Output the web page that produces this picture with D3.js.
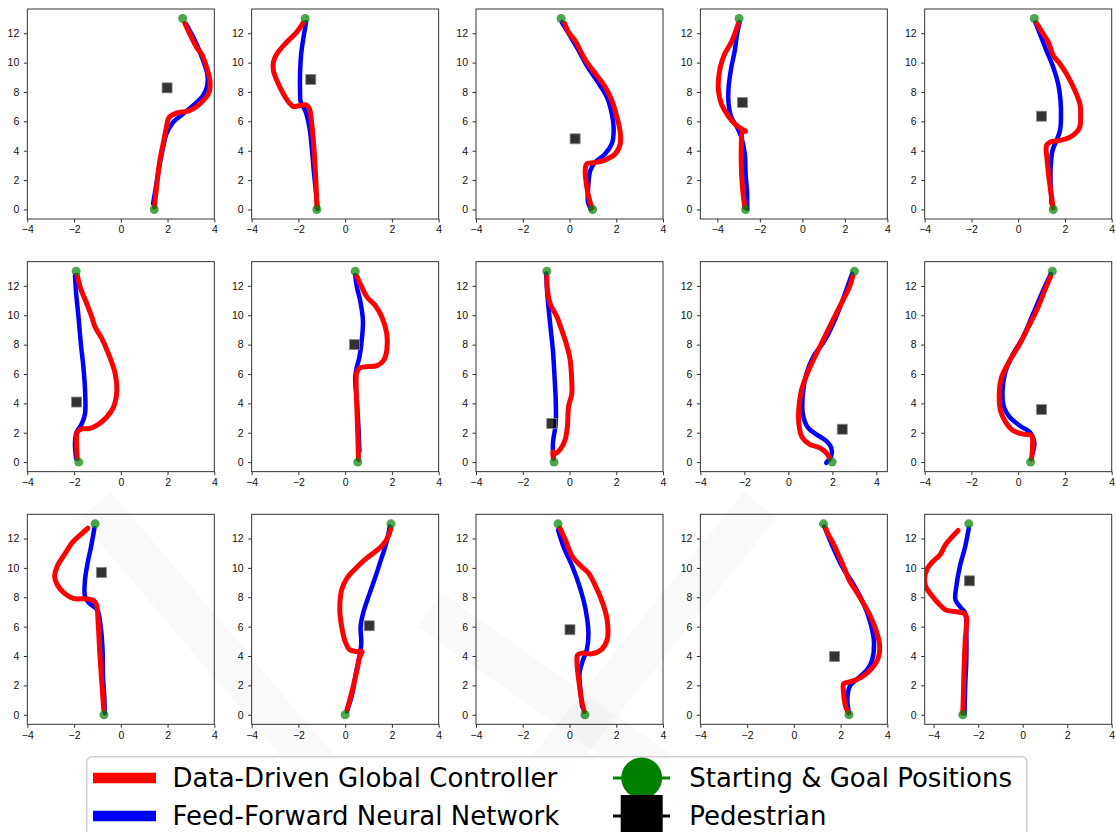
<!DOCTYPE html>
<meta charset="utf-8">
<style>
  body { margin: 0; background: #fff; }
  svg { display: block; font-family: 'DejaVu Sans', sans-serif; }
  .tick text { font-size: 10.5px; fill: #111; }
  .tick line { stroke: #333; }
  .domain { display: none; }
</style>
<script src="https://d3js.org/d3.v7.min.js"></script>
<div id="chart"></div>
<script>
// ---- data ----
const xTicks = [-4, -2, 0, 2, 4];
const yTicks = [0, 2, 4, 6, 8, 10, 12];
const yDomain = [-0.65, 13.65];

// x limits per panel (a few panels were auto-scaled wider)
const xDomains = [[-4,4],[-4,4],[-4,4],[-4.8,4],[-4,4],
                  [-4,4],[-4,4],[-4,4],[-4,4.5],[-4,4],
                  [-4,4],[-4,4],[-4,4],[-4,4],[-4.4,4]];

const topPoints = [[2.65,13],[-1.71,13],[-0.36,13],[-2.98,13],[0.69,13],
                   [-1.91,13],[0.43,13],[-0.97,13],[3.0,13],[1.46,13],
                   [-1.1,13],[1.96,13],[-0.49,13],[1.27,13],[-2.42,13]];
const bottomPoints = [[1.43,0],[-1.21,0],[0.99,0],[-2.67,0],[1.5,0],
                      [-1.8,0],[0.54,0],[-0.66,0],[1.99,0],[0.53,0],
                      [-0.72,0],[0,0],[0.66,0],[2.36,0],[-2.69,0]];
const pedestrians = [[1.98,8.28],[-1.47,8.85],[0.24,4.81],[-2.82,7.28],[1.0,6.35],
                     [-1.89,4.09],[0.4,8.0],[-0.76,2.63],[2.45,2.24],[1.0,3.58],
                     [-0.83,9.69],[1.03,6.06],[0.02,5.79],[1.74,3.97],[-2.39,9.12]];

const redPaths = [
  [[2.74,12.68],[3.24,11.05],[3.45,10.6],[3.67,9.69],[3.81,8.78],[3.78,7.99],[3.38,7.19],[2.95,6.74],[2.38,6.56],[2.07,6.28],[1.95,5.6],[1.84,4.7],[1.67,3.33],[1.53,1.52],[1.44,0.16]],
  [[-1.81,12.68],[-2.07,12.07],[-2.5,11.39],[-2.92,10.6],[-3.07,10.03],[-3.07,9.46],[-2.92,8.78],[-2.64,7.87],[-2.35,7.19],[-2.21,7.01],[-1.93,7.08],[-1.67,7.12],[-1.53,6.85],[-1.43,5.83],[-1.36,4.7],[-1.3,3.33],[-1.24,1.52],[-1.21,0.16]],
  [[-0.21,12.68],[-0.04,12.07],[0.24,11.5],[0.53,10.6],[0.74,10.03],[1.17,9.12],[1.53,8.33],[1.81,7.42],[2.03,6.28],[2.17,5.26],[2.17,4.47],[1.96,3.79],[1.46,3.33],[1.03,3.18],[0.74,3.11],[0.67,2.65],[0.74,1.52],[0.86,0.61],[0.96,0.11]],
  [[-3.01,12.68],[-3.18,11.96],[-3.34,11.39],[-3.65,10.6],[-3.86,9.69],[-3.95,8.78],[-3.95,8.1],[-3.81,7.19],[-3.5,6.4],[-3.18,5.83],[-2.87,5.49],[-2.67,5.33],[-2.82,5.26],[-2.87,4.47],[-2.87,2.88],[-2.82,1.52],[-2.71,0.16]],
  [[0.79,12.68],[1.07,11.96],[1.29,11.39],[1.5,10.48],[1.79,9.91],[2.07,9.23],[2.36,8.33],[2.64,7.19],[2.67,6.51],[2.64,5.65],[2.5,5.26],[2.21,4.92],[1.79,4.7],[1.36,4.58],[1.21,4.36],[1.24,3.33],[1.33,1.97],[1.43,0.84],[1.49,0.11]],
  [[-1.86,12.73],[-1.74,11.93],[-1.46,10.8],[-1.24,9.89],[-1.1,9.2],[-0.81,8.41],[-0.53,7.39],[-0.24,6.02],[-0.17,4.89],[-0.31,3.75],[-0.6,3.07],[-1.03,2.5],[-1.39,2.27],[-1.67,2.27],[-1.86,2.05],[-1.89,1.25],[-1.86,0.23]],
  [[0.5,12.66],[0.71,11.93],[0.93,11.25],[1.28,10.68],[1.57,9.88],[1.78,8.74],[1.78,7.6],[1.64,6.91],[1.36,6.57],[0.93,6.5],[0.64,6.41],[0.5,6.11],[0.47,5.32],[0.5,3.72],[0.54,1.89],[0.57,0.18]],
  [[-0.97,12.66],[-0.94,11.71],[-0.83,10.8],[-0.54,9.89],[-0.33,8.98],[-0.14,8.08],[0.03,6.94],[0.1,5.35],[0.1,4.67],[-0.04,3.77],[-0.09,2.4],[-0.19,1.5],[-0.37,0.93],[-0.61,0.59],[-0.71,0.7],[-0.69,0.25]],
  [[2.93,12.66],[2.78,11.93],[2.48,11.02],[2.02,9.65],[1.57,8.28],[1.12,6.91],[0.82,5.89],[0.59,4.86],[0.48,3.72],[0.48,2.58],[0.63,1.67],[0.97,1.21],[1.42,0.98],[1.72,0.64],[1.87,0.3]],
  [[1.39,12.66],[1.14,11.71],[0.79,10.34],[0.43,9.2],[0.07,8.06],[-0.36,6.92],[-0.71,5.79],[-0.81,4.65],[-0.76,3.51],[-0.53,2.71],[-0.21,2.14],[0.21,1.91],[0.57,1.8],[0.61,1.0],[0.57,0.21]],
  [[-1.41,12.7],[-1.73,12.25],[-2.03,11.8],[-2.42,10.89],[-2.72,10.1],[-2.83,9.41],[-2.72,8.85],[-2.42,8.28],[-2.03,7.92],[-1.5,7.89],[-1.16,7.78],[-1.04,7.49],[-0.96,6.01],[-0.89,3.97],[-0.81,2.16],[-0.73,0.34]],
  [[1.96,12.7],[1.84,12.14],[1.61,11.57],[1.3,11.12],[0.92,10.66],[0.46,9.98],[0.08,9.3],[-0.15,8.51],[-0.23,7.15],[-0.15,6.01],[0,4.99],[0.2,4.42],[0.46,4.31],[0.72,4.31],[0.61,3.86],[0.51,3.06],[0.31,1.7],[0.08,0.34]],
  [[-0.41,12.71],[-0.18,11.91],[0.12,10.78],[0.43,10.21],[0.81,9.65],[1.12,8.74],[1.42,7.6],[1.61,6.47],[1.61,5.11],[1.35,4.42],[0.96,4.15],[0.58,4.2],[0.35,4.08],[0.32,3.52],[0.43,1.93],[0.54,0.8],[0.63,0.22]],
  [[1.37,12.7],[1.45,12.36],[1.68,11.68],[1.91,10.89],[2.13,10.1],[2.36,9.19],[2.67,8.39],[2.97,7.6],[3.28,6.69],[3.51,5.78],[3.66,4.88],[3.66,4.2],[3.51,3.52],[3.13,2.84],[2.67,2.38],[2.29,2.2],[2.13,2.11],[2.13,1.47],[2.21,0.57],[2.33,0.16]],
  [[-2.9,12.55],[-3.15,12.14],[-3.47,11.57],[-3.71,10.89],[-4.03,10.44],[-4.27,9.98],[-4.4,9.3],[-4.35,8.73],[-4.11,8.17],[-3.79,7.6],[-3.47,7.15],[-3.06,7.03],[-2.66,6.92],[-2.53,6.69],[-2.58,5.1],[-2.63,3.29],[-2.66,1.47],[-2.69,0.11]]
];

const bluePaths = [
  [[2.8,12.6],[3.24,11.27],[3.52,10.14],[3.7,9.23],[3.7,8.44],[3.52,7.76],[3.1,7.08],[2.67,6.51],[2.24,5.94],[1.95,5.15],[1.81,4.24],[1.64,2.88],[1.5,1.52],[1.38,0.39]],
  [[-1.67,12.75],[-1.78,11.73],[-1.88,10.6],[-1.93,9.23],[-1.93,8.1],[-1.9,7.3],[-1.71,6.74],[-1.53,5.6],[-1.43,4.24],[-1.33,2.43],[-1.21,0.61],[-1.18,0.05]],
  [[-0.33,12.75],[-0.11,12.18],[0.31,11.05],[0.74,9.8],[1.17,8.78],[1.6,7.65],[1.81,6.51],[1.89,5.38],[1.81,4.47],[1.53,3.79],[1.1,3.22],[0.89,2.65],[0.81,1.75],[0.79,0.5],[0.91,0.05]],
  [[-2.95,12.75],[-3.07,11.96],[-3.18,10.82],[-3.34,9.69],[-3.47,8.33],[-3.47,7.19],[-3.34,6.28],[-3.07,5.6],[-2.87,4.92],[-2.71,3.79],[-2.67,2.43],[-2.6,1.07],[-2.6,0.05]],
  [[0.73,12.75],[0.93,11.96],[1.21,10.82],[1.5,9.69],[1.71,8.55],[1.81,7.42],[1.83,6.28],[1.79,5.38],[1.64,4.7],[1.47,4.02],[1.39,2.88],[1.39,1.52],[1.43,0.39]],
  [[-1.96,12.73],[-1.91,11.48],[-1.81,9.89],[-1.71,8.07],[-1.6,6.48],[-1.53,4.89],[-1.53,3.3],[-1.67,2.61],[-1.89,2.05],[-1.96,1.25],[-1.91,0.23]],
  [[0.43,12.73],[0.5,11.93],[0.64,11.02],[0.76,9.65],[0.71,8.28],[0.61,7.14],[0.5,6.46],[0.43,5.77],[0.5,4.18],[0.57,2.35],[0.61,0.75]],
  [[-1.0,12.84],[-0.94,11.25],[-0.83,9.44],[-0.71,7.62],[-0.64,5.81],[-0.59,4.22],[-0.59,2.63],[-0.71,1.27],[-0.69,0.25]],
  [[2.9,12.84],[2.63,11.7],[2.17,9.88],[1.65,8.28],[1.12,7.14],[0.82,6.0],[0.66,4.63],[0.66,3.26],[0.89,2.35],[1.27,1.89],[1.72,1.44],[1.95,0.98],[1.95,0.41],[1.72,-0.05]],
  [[1.39,12.8],[1.07,11.71],[0.64,10.11],[0.21,8.52],[-0.29,7.15],[-0.57,6.01],[-0.67,4.87],[-0.61,3.74],[-0.36,3.05],[0.07,2.48],[0.5,2.03],[0.69,1.34],[0.61,0.55]],
  [[-1.13,12.7],[-1.27,11.46],[-1.42,10.32],[-1.53,9.19],[-1.53,8.05],[-1.35,7.6],[-1.01,7.15],[-0.86,6.01],[-0.78,4.42],[-0.76,2.61],[-0.7,1.02],[-0.69,0.11]],
  [[1.91,12.82],[1.76,11.68],[1.53,10.55],[1.3,9.41],[1.0,8.05],[0.77,6.92],[0.66,6.01],[0.69,4.88],[0.61,3.97],[0.46,2.84],[0.31,1.47],[0.08,0.23]],
  [[-0.49,12.59],[-0.26,11.46],[0.12,10.1],[0.43,8.74],[0.69,7.15],[0.81,5.56],[0.74,4.42],[0.58,3.74],[0.43,2.84],[0.48,1.48],[0.54,0.57]],
  [[1.3,12.82],[1.6,11.68],[2.06,10.1],[2.52,8.96],[2.97,7.6],[3.28,6.24],[3.43,4.88],[3.35,3.74],[3.13,3.06],[2.67,2.38],[2.39,1.93],[2.29,1.02],[2.36,0.11]],
  [[-2.42,12.7],[-2.58,11.46],[-2.82,10.1],[-2.98,8.73],[-3.02,7.83],[-2.82,7.37],[-2.58,6.92],[-2.53,5.56],[-2.53,3.74],[-2.58,1.93],[-2.61,0.11]]
];

const lineLabels = ["Data-Driven Global Controller", "Feed-Forward Neural Network"];
const markerLabels = ["Starting & Goal Positions", "Pedestrian"];

// ---- layout ----
const W = 1116, H = 832;
const pw = 187, ph = 210;
const left0 = 27.3, colStep = 224.35;
const top0 = 9, rowStep = 252.65;

const svg = d3.select("#chart").append("svg")
    .attr("width", W).attr("height", H);

const line = d3.line().curve(d3.curveCatmullRom.alpha(0.5));

d3.range(15).forEach(function(i) {
  const col = i % 5, row = Math.floor(i / 5);
  const g = svg.append("g")
      .attr("transform", `translate(${left0 + col * colStep},${top0 + row * rowStep})`);

  const x = d3.scaleLinear().domain(xDomains[i]).range([0, pw]);
  const y = d3.scaleLinear().domain(yDomain).range([ph, 0]);

  g.append("clipPath").attr("id", "clip" + i)
    .append("rect").attr("width", pw).attr("height", ph);

  g.append("g")
      .attr("transform", `translate(0,${ph})`)
      .call(d3.axisBottom(x).tickValues(xTicks).tickSize(3.5).tickPadding(3.5));
  g.append("g")
      .call(d3.axisLeft(y).tickValues(yTicks).tickSize(3.5).tickPadding(4.5));

  const plot = g.append("g").attr("clip-path", `url(#clip${i})`);

  line.x(d => x(d[0])).y(d => y(d[1]));

  plot.append("path")
      .datum(bluePaths[i])
      .attr("d", line)
      .attr("fill", "none")
      .attr("stroke", "#0000ff")
      .attr("stroke-width", 4.5)
      .attr("stroke-linejoin", "round")
      .attr("stroke-linecap", "round");

  plot.append("path")
      .datum(redPaths[i])
      .attr("d", line)
      .attr("fill", "none")
      .attr("stroke", "#ff0000")
      .attr("stroke-width", 5)
      .attr("stroke-linejoin", "round")
      .attr("stroke-linecap", "round");

  const sq = pedestrians[i];
  plot.append("rect")
      .attr("x", x(sq[0]) - 5).attr("y", y(sq[1]) - 5)
      .attr("width", 10).attr("height", 10)
      .attr("fill", "#000").attr("fill-opacity", 0.8)
      .attr("stroke", "#888").attr("stroke-width", 0.8);

  plot.selectAll("circle.pt")
    .data([topPoints[i], bottomPoints[i]])
    .join("circle")
      .attr("class", "pt")
      .attr("cx", d => x(d[0])).attr("cy", d => y(d[1]))
      .attr("r", 4.5)
      .attr("fill", "#008000").attr("fill-opacity", 0.7);

  g.append("rect")
      .attr("width", pw).attr("height", ph)
      .attr("fill", "none").attr("stroke", "#333").attr("stroke-width", 1);
});

// faint watermark bands
const marks = [[[95, 505], [345, 800]], [[760, 505], [515, 810]], [[430, 610], [700, 800]]];
svg.append("g").selectAll("path")
  .data(marks)
  .join("path")
    .attr("d", d => d3.line()(d))
    .attr("stroke", "#000").attr("stroke-opacity", 0.025)
    .attr("stroke-width", 42).attr("fill", "none");

// ---- legend ----
const lg = svg.append("g");
lg.append("rect")
    .attr("x", 86.8).attr("y", 756.7).attr("width", 940).attr("height", 110)
    .attr("rx", 5)
    .attr("fill", "#fff").attr("fill-opacity", 0.85)
    .attr("stroke", "#d0d0d0").attr("stroke-width", 1.5);

const rowY = [778, 816];
const lineColors = ["#ff0000", "#0000ff"];
lineLabels.forEach(function(t, k) {
  lg.append("line")
      .attr("x1", 93).attr("x2", 156).attr("y1", rowY[k]).attr("y2", rowY[k])
      .attr("stroke", lineColors[k]).attr("stroke-width", 10.5);
  lg.append("text")
      .attr("x", 172.5).attr("y", rowY[k])
      .attr("dominant-baseline", "central")
      .style("font-size", "26px").attr("fill", "#000")
      .text(t);
});

markerLabels.forEach(function(t, k) {
  lg.append("line")
      .attr("x1", 613).attr("x2", 670).attr("y1", rowY[k]).attr("y2", rowY[k])
      .attr("stroke", k === 0 ? "#008000" : "#000").attr("stroke-width", 3);
  if (k === 0) {
    lg.append("circle").attr("cx", 641.7).attr("cy", rowY[k]).attr("r", 20.5)
        .attr("fill", "#008000");
  } else {
    lg.append("rect").attr("x", 620.7).attr("y", rowY[k] - 21).attr("width", 42).attr("height", 42)
        .attr("fill", "#000");
  }
  lg.append("text")
      .attr("x", 689.2).attr("y", rowY[k])
      .attr("dominant-baseline", "central")
      .style("font-size", "26px").attr("fill", "#000")
      .text(t);
});
</script>
